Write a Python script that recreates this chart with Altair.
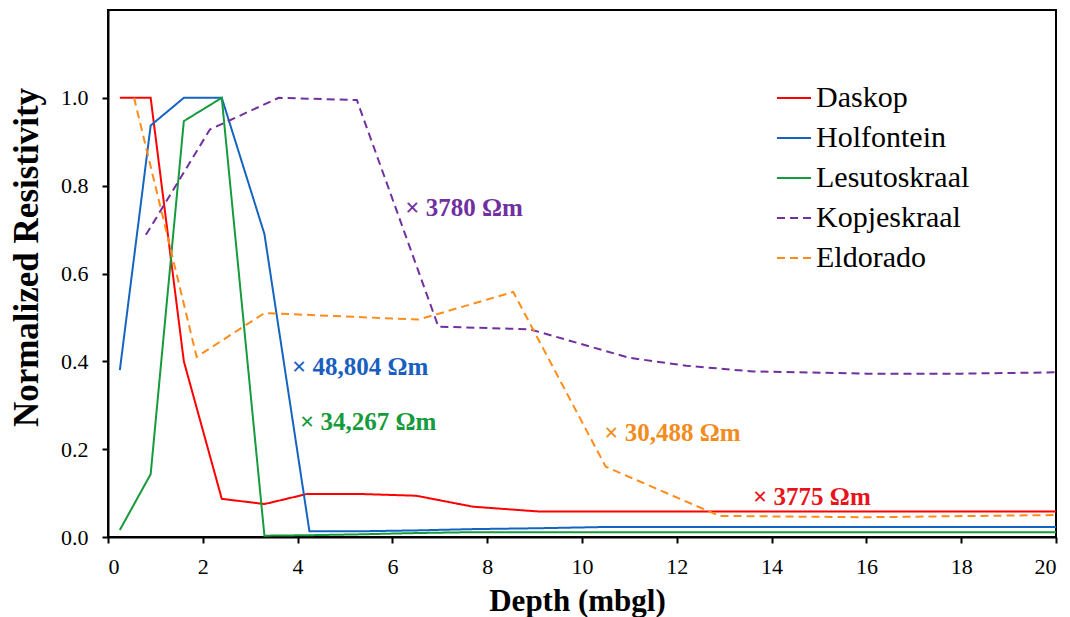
import altair as alt
import pandas as pd

sites = ["Daskop", "Holfontein", "Lesutoskraal", "Kopjeskraal", "Eldorado"]
colors = ["#FF0000", "#1565C0", "#169B3C", "#7030A0", "#FF8C1A"]
dashes = [[1, 0], [1, 0], [1, 0], [8, 5], [8, 5]]

daskop_x = [0.25, 0.9, 1.6, 2.4, 3.3, 4.2, 5.3, 6.5, 7.7, 9.1, 20]
daskop_y = [1.0, 1.0, 0.40, 0.087, 0.075, 0.098, 0.098, 0.094, 0.069, 0.058, 0.058]

holf_x = [0.25, 0.9, 1.6, 2.4, 3.3, 4.25, 5.3, 6.5, 7.7, 9.1, 10.6, 20]
holf_y = [0.38, 0.937, 1.0, 1.0, 0.69, 0.013, 0.013, 0.015, 0.018, 0.02, 0.023, 0.023]

lesu_x = [0.25, 0.9, 1.6, 2.4, 3.3, 4.2, 5.3, 6.5, 7.7, 20]
lesu_y = [0.016, 0.143, 0.947, 1.0, 0.003, 0.004, 0.006, 0.009, 0.011, 0.011]

kopj_x = [0.8, 2.15, 3.6, 5.25, 6.97, 8.9, 11.0, 12.2, 13.6, 16, 18, 20]
kopj_y = [0.688, 0.928, 1.0, 0.995, 0.479, 0.473, 0.408, 0.39, 0.377, 0.372, 0.372, 0.375]

eldo_x = [0.55, 1.87, 3.3, 6.55, 8.55, 10.5, 12.9, 16, 20]
eldo_y = [1.0, 0.41, 0.51, 0.495, 0.558, 0.16, 0.048, 0.045, 0.05]

ann_label = ["× 48,804 Ωm", "× 34,267 Ωm", "× 3780 Ωm", "× 30,488 Ωm", "× 3775 Ωm"]
ann_x = [3.88, 4.05, 6.27, 10.47, 13.61]
ann_y = [0.388, 0.262, 0.749, 0.236, 0.091]
ann_color = ["#1A5FBF", "#169B3C", "#7030A0", "#F28C1E", "#E8141A"]

x_ticks = list(range(0, 21, 2))
y_ticks = [0.0, 0.2, 0.4, 0.6, 0.8, 1.0]

rows = []
for name, xs, ys in [("Daskop", daskop_x, daskop_y), ("Holfontein", holf_x, holf_y),
                     ("Lesutoskraal", lesu_x, lesu_y), ("Kopjeskraal", kopj_x, kopj_y),
                     ("Eldorado", eldo_x, eldo_y)]:
    for x, y in zip(xs, ys):
        rows.append({"site": name, "depth": x, "res": y})
df = pd.DataFrame(rows)

ann = pd.DataFrame({"label": ann_label, "depth": ann_x, "res": ann_y, "col": ann_color})

FONT = "Liberation Serif"

x_enc = alt.X("depth:Q", scale=alt.Scale(domain=[0, 20], nice=False),
              axis=alt.Axis(values=x_ticks, title="Depth (mbgl)", grid=False,
                            labelFont=FONT, labelFontSize=22, labelColor="black",
                            labelPadding=13, titleFont=FONT, titleFontSize=31,
                            titleX=469, titleY=73,
                            titleBaseline="alphabetic", titleAlign="center"))
y_enc = alt.Y("res:Q", scale=alt.Scale(domain=[0, 1.2], nice=False),
              axis=alt.Axis(values=y_ticks, format=".1f", title="Normalized Resistivity",
                            grid=False, labelFont=FONT, labelFontSize=22,
                            labelColor="black", labelPadding=14, titleFont=FONT,
                            titleFontSize=35, titleX=-71,
                            titleY=247, titleAngle=270, titleBaseline="alphabetic",
                            titleAlign="center"))

lines = alt.Chart(df).mark_line(strokeWidth=2).encode(
    x=x_enc,
    y=y_enc,
    color=alt.Color("site:N", scale=alt.Scale(domain=sites, range=colors),
                    legend=alt.Legend(title=None)),
    strokeDash=alt.StrokeDash("site:N", scale=alt.Scale(domain=sites, range=dashes),
                              legend=alt.Legend(title=None)),
)

texts = alt.Chart(ann).mark_text(align="left", baseline="middle", font=FONT,
                                 fontWeight="bold", fontSize=25).encode(
    x=x_enc, y=y_enc, text="label:N", color=alt.Color("col:N", scale=None)
)

chart = alt.layer(lines, texts).properties(
    width=948, height=527,
    autosize=alt.AutoSizeParams(type="none"),
    padding={"left": 100, "top": 2, "right": 6, "bottom": 80},
).configure_view(
    stroke="black", strokeWidth=2
).configure_axis(
    domainColor="black", domainWidth=2, tickColor="black", tickWidth=2, tickSize=6,
    labelFont=FONT, labelFontSize=22, labelColor="black",
    titleFont=FONT, titleFontWeight="bold", titleColor="black",
).configure_legend(
    orient="none", legendX=668, legendY=70, symbolType="stroke", symbolSize=1156,
    symbolStrokeWidth=2, labelFont=FONT, labelFontSize=30, labelColor="black",
    labelOffset=4, rowPadding=7, padding=0, labelLimit=400,
)

chart.save("out.html", embed_options={"renderer": "svg", "actions": False})
